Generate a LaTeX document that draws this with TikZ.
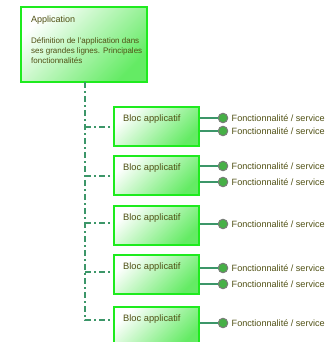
\documentclass[tikz,border=0pt]{standalone}
\usepackage{fontspec}
\setmainfont{Liberation Sans}
\definecolor{boxgreen}{RGB}{30,235,30}
\definecolor{fillgreen}{RGB}{100,235,100}
\definecolor{linegreen}{RGB}{60,150,105}
\definecolor{txt}{RGB}{80,80,20}
\definecolor{dotfill}{RGB}{70,175,70}
\definecolor{dotline}{RGB}{120,125,120}
\begin{document}
\begin{tikzpicture}[x=1pt,y=-1pt,
 gbox/.style={draw=boxgreen, line width=2pt, top color=white, bottom color=fillgreen, shading angle=45, inner sep=0pt},
 bloc/.style={gbox, minimum width=85pt, minimum height=39pt},
 lbl/.style={text=txt, font=\fontsize{9.3}{10}\selectfont, anchor=base west, inner sep=0pt},
 trunk/.style={draw=linegreen, line width=1.8pt, dash pattern=on 6pt off 3pt on 2pt off 3pt},
 link/.style={draw=linegreen, line width=1.8pt},
 dot/.style={circle, fill=dotfill, draw=dotline, line width=1pt, minimum size=9.5pt, inner sep=0pt},
 feat/.style={text=txt, font=\fontsize{9.1}{10}\selectfont, anchor=west, inner sep=0pt}]
\useasboundingbox (0,0) rectangle (330,342);
\clip (0,0) rectangle (330,342);
% application box
\node[gbox, minimum width=126pt, minimum height=75pt] (app) at (84,44.5) {};
\node[lbl, font=\fontsize{9}{10}\selectfont] (apptitle) at (31,23) {Application};
\node[text=txt, font=\fontsize{8}{10}\selectfont, anchor=north west, inner sep=0pt, align=left] (appdesc) at (31,37.5)
 {Définition de l'application dans\\ses grandes lignes. Principales\\fonctionnalités};
% bloc boxes
\node[bloc] (b1) at (156.5,126.5) {};
\node[bloc] (b2) at (156.5,175.5) {};
\node[bloc] (b3) at (156.5,225) {};
\node[bloc] (b4) at (156.5,274.5) {};
\node[bloc] (b5) at (156.5,326.5) {};
\node[lbl] (l1) at (123,121.5) {Bloc applicatif};
\node[lbl] (l2) at (123,170.5) {Bloc applicatif};
\node[lbl] (l3) at (123,220) {Bloc applicatif};
\node[lbl] (l4) at (123,269.5) {Bloc applicatif};
\node[lbl] (l5) at (123,321.5) {Bloc applicatif};
% trunk
\coordinate (t) at (85,82);
\coordinate (j1) at (85,127);
\coordinate (j2) at (85,176);
\coordinate (j3) at (85,223);
\coordinate (j4) at (85,272);
\coordinate (j5) at (85,320);
\draw[trunk] (t) |- (j5 -| b5.west);
\draw[trunk] (j1) -- (j1 -| b1.west);
\draw[trunk] (j2) -- (j2 -| b2.west);
\draw[trunk] (j3) -- (j3 -| b3.west);
\draw[trunk] (j4) -- (j4 -| b4.west);
% features
\foreach \n/\b/\y in {11/b1/118, 12/b1/131, 21/b2/166, 22/b2/182, 31/b3/224, 41/b4/268, 42/b4/284, 51/b5/323}{
  \node[dot] (d\n) at (223,\y) {};
  \draw[link] (d\n -| \b.east) -- (d\n);
  \node[feat] (f\n) at (231.5,\y) {Fonctionnalité / service};
}
\end{tikzpicture}
\end{document}
